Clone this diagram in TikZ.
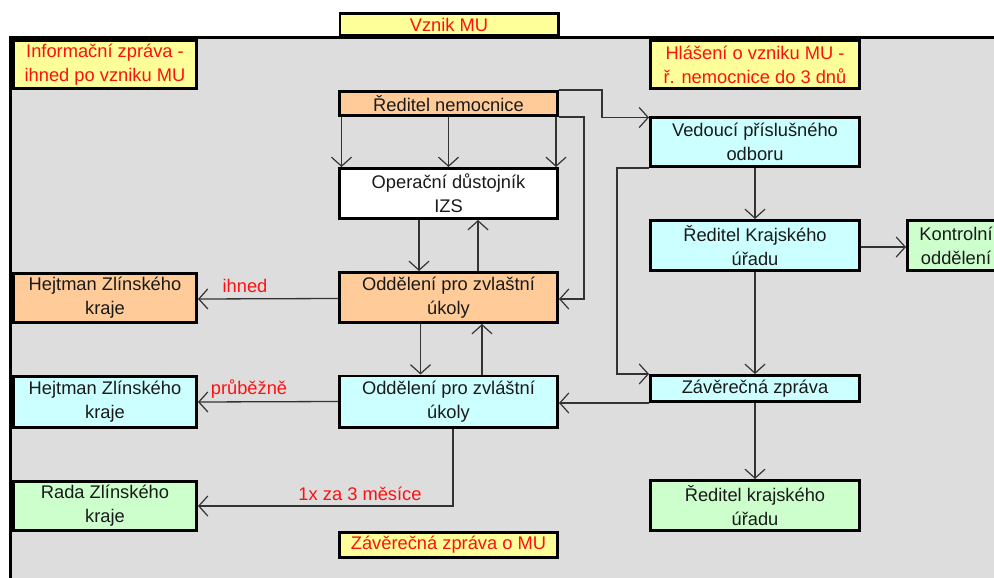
\documentclass[tikz,border=0pt]{standalone}
\usepackage{fontspec}
\setmainfont{Liberation Sans}
\usetikzlibrary{arrows.meta}
\definecolor{bgc}{HTML}{DDDDDD}
\definecolor{yel}{HTML}{FFFF99}
\definecolor{ora}{HTML}{FFCC99}
\definecolor{cya}{HTML}{CCFFFF}
\definecolor{gre}{HTML}{CCFFCC}
\definecolor{linec}{HTML}{333333}
\definecolor{txtc}{HTML}{1A1A1A}
\definecolor{redt}{HTML}{FF1010}
\begin{document}
\begin{tikzpicture}[x=1pt,y=-1pt,
  box/.style={draw=black, line width=2.6pt, inner sep=0pt, align=center,
    font=\fontsize{18.3}{24}\selectfont, text=txtc},
  wide/.style={box, minimum width=218.4pt},
  side/.style={box, minimum width=183.4pt},
  rbox/.style={box, minimum width=209.4pt},
  yelbox/.style={fill=yel, text=redt},
  lbl/.style={text=redt, font=\fontsize{18.3}{24}\selectfont, inner sep=0pt},
  arr/.style={draw=linec, line width=1.3pt,
    -{Straight Barb[length=9pt,width=20pt,line width=1.2pt]}},
  ln/.style={draw=linec, line width=1.3pt}]
\useasboundingbox (0,0) rectangle (994,578);
\fill[white] (0,0) rectangle (994,578);
\fill[bgc] (10,38) rectangle (994,578);
\draw[line width=3pt] (10,578) -- (10,38) -- (994,38);

% top / yellow boxes
\node[wide, yelbox, minimum height=22.4pt] (vznik) at (449,24.5) {Vznik MU};
\node[side, yelbox, minimum height=48.4pt] (info) at (105,64.5) {Informační zpráva -\\ihned po vzniku MU};
\node[rbox, yelbox, minimum height=48.4pt] (hlas) at (755,64.5) {Hlášení o vzniku MU -\\ř. nemocnice do 3 dnů};
\node[wide, yelbox, minimum height=25.4pt] (zavmu) at (448.5,545) {Závěrečná zpráva o MU};

% centre column
\node[wide, fill=ora, minimum height=24.4pt] (rednem) at (448.5,103.5) {Ředitel nemocnice};
\node[wide, fill=white, minimum height=50.4pt] (oper) at (448.5,193.5) {Operační důstojník\\IZS};
\node[wide, fill=ora, minimum height=50.4pt] (odd1) at (448.5,297.5) {Oddělení pro zvlaštní\\úkoly};
\node[wide, fill=cya, minimum height=51.4pt] (odd2) at (448.5,401.5) {Oddělení pro zvláštní\\úkoly};

% left column
\node[side, fill=ora, minimum height=49.4pt] (hej1) at (105,298) {Hejtman Zlínského\\kraje};
\node[side, fill=cya, minimum height=51.4pt] (hej2) at (105,402) {Hejtman Zlínského\\kraje};
\node[side, fill=gre, minimum height=49.4pt] (rada) at (105,506) {Rada Zlínského\\kraje};

% right column
\node[rbox, fill=cya, minimum height=49.4pt] (ved) at (755,142) {Vedoucí příslušného\\odboru};
\node[rbox, fill=cya, minimum height=50.4pt] (redkr) at (755,245.5) {Ředitel Krajského\\úřadu};
\node[box, fill=gre, minimum width=97.4pt, minimum height=50.4pt] (kontr) at (956,245.5) {Kontrolní\\oddělení};
\node[rbox, fill=cya, minimum height=26.4pt] (zav) at (755,388.5) {Závěrečná zpráva};
\node[rbox, fill=gre, minimum height=50.4pt] (redkr2) at (755,505.5) {Ředitel krajského\\úřadu};

% connectors
\draw[arr] ([xshift=-107]rednem.south) -- ([xshift=-107]oper.north);
\draw[arr] (rednem.south) -- (oper.north);
\draw[arr] ([xshift=107.5]rednem.south) -- ([xshift=107.5]oper.north);
\draw[arr] (rednem.north east) -- ++(43,0) |- ([yshift=-1.5pt]ved.north west);
\draw[arr] (rednem.south east) -- ++(25,0) |- ([yshift=-1.5pt]odd1.east);
\draw[arr] ([xshift=-29.5]oper.south) -- ([xshift=-29.5]odd1.north);
\draw[arr] ([xshift=29.5]odd1.north) -- ([xshift=29.5]oper.south);
\draw[arr] ([xshift=-28]odd1.south) -- ([xshift=-28]odd2.north);
\draw[arr] ([xshift=33.5]odd2.north) -- ([xshift=33.5]odd1.south);
\draw[arr] ([yshift=-1pt]odd1.west) -- ([yshift=-1pt]hej1.east);
\draw[arr] (odd2.west) -- (hej2.east);
\draw[arr] ([xshift=4.5]odd2.south) |- (rada.east);
\draw[arr] (ved.south) -- (redkr.north);
\draw[arr] ([yshift=-1.5pt]redkr.east) -- ([yshift=-1.5pt]kontr.west);
\draw[arr] (redkr.south) -- (zav.north);
\draw[arr] (ved.south west) -- ++(-32,0) |- (zav.north west);
\draw[arr] (zav.south west) -- (odd2.east |- zav.south west);
\draw[arr] (zav.south) -- (redkr2.north);

% labels
\node[lbl] (l1) at (245,286) {ihned};
\node[lbl] (l2) at (249,389) {průběžně};
\node[lbl] (l3) at (360,494) {1x za 3 měsíce};
\end{tikzpicture}
\end{document}
